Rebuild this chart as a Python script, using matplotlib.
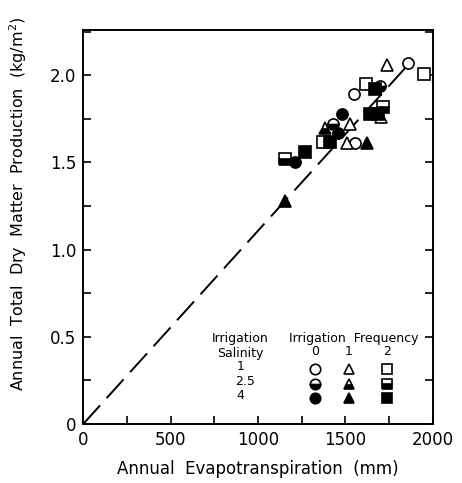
import numpy as np
import matplotlib
matplotlib.use('Agg')
import matplotlib.pyplot as plt
from matplotlib.ticker import MultipleLocator, FixedFormatter, FixedLocator

# Annual ET (mm) and dry matter (kg/m2), grouped by salinity / frequency
# salinity 1 (open), 2.5 (half), 4 (filled); frequency 0 circle, 1 triangle, 2 square
circ_open_et = [1549, 1857, 1554]
circ_open_dm = [1.89, 2.07, 1.61]
circ_half_et = [1429, 1697]
circ_half_dm = [1.72, 1.94]
circ_fill_et = [1480, 1211, 1457]
circ_fill_dm = [1.78, 1.50, 1.67]

tri_open_et = [1737, 1526, 1509, 1703]
tri_open_dm = [2.06, 1.72, 1.61, 1.76]
tri_half_et = [1383]
tri_half_dm = [1.70]
tri_fill_et = [1623, 1154]
tri_fill_dm = [1.61, 1.28]

sq_open_et = [1617, 1949, 1371]
sq_open_dm = [1.95, 2.01, 1.62]
sq_half_et = [1714, 1154]
sq_half_dm = [1.82, 1.52]
sq_fill_et = [1269, 1411, 1640, 1686, 1669]
sq_fill_dm = [1.56, 1.62, 1.78, 1.78, 1.92]

# reference line through the origin
line_et = [0, 1840]
line_dm = [0, 2.04]

salinity_labels = ['1', '2.5', '4']
frequency_labels = ['0', '1', '2']

fig = plt.figure(figsize=(4.62, 4.83), dpi=100)
ax = fig.add_axes([0.180, 0.122, 0.757, 0.816])

ax.plot(line_et, line_dm, color='black', lw=1.4, dashes=(13, 5))

def pts(x, y, marker, fill, size=8, **extra):
    kw = dict(linestyle='none', marker=marker, ms=size, mec='black', mew=1.2)
    if fill == 'open':
        kw.update(mfc='white')
    elif fill == 'half':
        kw.update(mfc='black', fillstyle='bottom', markerfacecoloralt='white')
    else:
        kw.update(mfc='black')
    kw.update(extra)
    ax.plot(x, y, **kw)

pts(circ_open_et, circ_open_dm, 'o', 'open')
pts(circ_half_et, circ_half_dm, 'o', 'half')
pts(circ_fill_et, circ_fill_dm, 'o', 'fill')
pts(tri_open_et, tri_open_dm, '^', 'open')
pts(tri_half_et, tri_half_dm, '^', 'half')
pts(tri_fill_et, tri_fill_dm, '^', 'fill')
pts(sq_open_et, sq_open_dm, 's', 'open')
pts(sq_half_et, sq_half_dm, 's', 'half')
pts(sq_fill_et, sq_fill_dm, 's', 'fill')

ax.set_xlim(0, 2000)
ax.set_ylim(0, 2.26)

ax.xaxis.set_major_locator(MultipleLocator(500))
ax.xaxis.set_minor_locator(MultipleLocator(250))
ax.yaxis.set_major_locator(FixedLocator([0, 0.5, 1.0, 1.5, 2.0]))
ax.yaxis.set_major_formatter(FixedFormatter(['0', '0.5', '1.0', '1.5', '2.0']))
ax.yaxis.set_minor_locator(MultipleLocator(0.25))
ax.tick_params(which='both', direction='in', right=True, top=False,
               width=1.2, length=6, labelsize=12, pad=5)
for s in ax.spines.values():
    s.set_linewidth(1.4)

ax.set_xlabel('Annual  Evapotranspiration  (mm)', fontsize=12, labelpad=8)
ax.set_ylabel('Annual  Total  Dry  Matter  Production  (kg/m$^2$)',
              fontsize=11.5)
ax.yaxis.set_label_coords(-0.155, 0.56)

# legend block drawn in axes fraction
ax.text(0.449, 0.218, 'Irrigation', transform=ax.transAxes, ha='center', va='center', fontsize=9)
ax.text(0.449, 0.178, 'Salinity', transform=ax.transAxes, ha='center', va='center', fontsize=9)
row_y = [0.140, 0.102, 0.067]
sal_x = [0.449, 0.462, 0.449]
for lab, yy, xx in zip(salinity_labels, row_y, sal_x):
    ax.text(xx, yy + 0.005, lab, transform=ax.transAxes, ha='center', va='center', fontsize=9)

ax.text(0.774, 0.218, 'Irrigation  Frequency', transform=ax.transAxes, ha='center', va='center', fontsize=9)
col_x = [0.663, 0.760, 0.869]
for lab, xx in zip(frequency_labels, col_x):
    ax.text(xx, 0.183, lab, transform=ax.transAxes, ha='center', va='center', fontsize=9)

for mk, xx in zip(['o', '^', 's'], col_x):
    for fl, yy in zip(['open', 'half', 'fill'], row_y):
        pts([xx], [yy], mk, fl, size=7.5, transform=ax.transAxes, clip_on=False)

fig.savefig('out.png', dpi=100)
